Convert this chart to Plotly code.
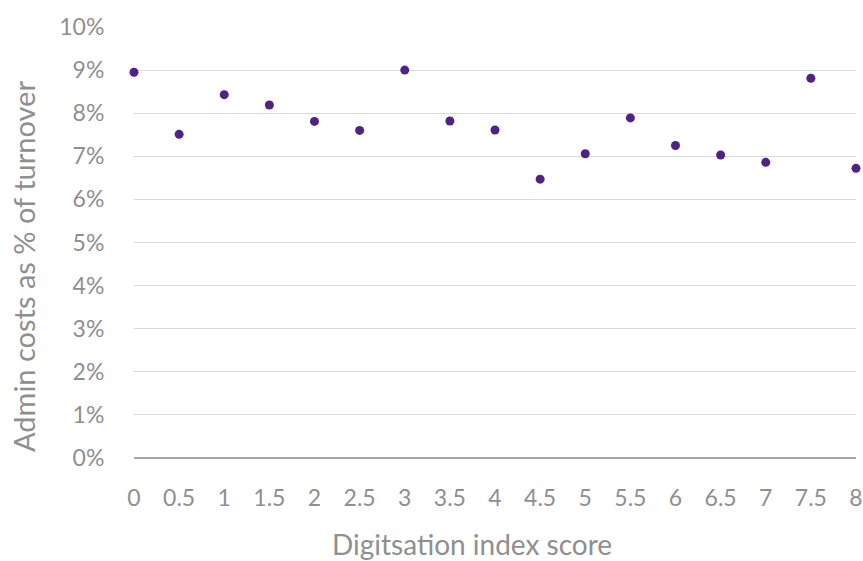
import plotly.graph_objects as go

x_scores = [0, 0.5, 1, 1.5, 2, 2.5, 3, 3.5, 4, 4.5, 5, 5.5, 6, 6.5, 7, 7.5, 8]
admin_costs = [0.0895, 0.0751, 0.0843, 0.0819, 0.0781, 0.0760, 0.0900, 0.0782, 0.0761,
               0.0647, 0.0706, 0.0789, 0.0725, 0.0703, 0.0686, 0.0881, 0.0672]
x_ticks = [0, 0.5, 1, 1.5, 2, 2.5, 3, 3.5, 4, 4.5, 5, 5.5, 6, 6.5, 7, 7.5, 8]
y_ticks = [i / 100 for i in range(0, 11)]

FONT = "Lato"
GREY = "#8f8f8f"

W, H = 863, 561
L, R, T, B = 134, 7, 27, 103
PW, PH = W - L - R, H - T - B

fig = go.Figure(go.Scatter(
    x=x_scores, y=admin_costs, mode="markers",
    marker=dict(color="#4e2383", size=9),
    cliponaxis=False,
))

fig.update_layout(
    width=W, height=H,
    margin=dict(l=L, r=R, t=T, b=B),
    paper_bgcolor="white", plot_bgcolor="white",
    font=dict(family=FONT, color=GREY, size=23),
    showlegend=False,
    xaxis=dict(
        range=[0, 8], tickvals=x_ticks, ticktext=[f"{v:g}" for v in x_ticks],
        showgrid=False, zeroline=False, showline=False,
        ticks="outside", ticklen=19, tickcolor="rgba(0,0,0,0)",
        tickfont=dict(size=23, color=GREY), automargin=False,
    ),
    yaxis=dict(
        range=[0, 0.1], tickvals=y_ticks, tickformat=".0%",
        showgrid=True, gridcolor="#d9d9d9", gridwidth=1,
        zeroline=True, zerolinecolor="#a6a6a6", zerolinewidth=1.5,
        showline=False,
        ticks="outside", ticklen=24, tickcolor="rgba(0,0,0,0)",
        tickfont=dict(size=23, color=GREY), automargin=False,
    ),
    annotations=[
        dict(text="Digitsation index score", xref="paper", yref="paper",
             x=(472 - L) / PW, y=-(544 - (H - B)) / PH, xanchor="center", yanchor="middle",
             showarrow=False, font=dict(size=28, color=GREY, family=FONT)),
        dict(text="Admin costs as % of turnover", xref="paper", yref="paper",
             x=-(L - 23) / PW, y=((H - B) - 267) / PH, xanchor="center", yanchor="middle",
             textangle=-90, showarrow=False, font=dict(size=29, color=GREY, family=FONT)),
    ],
)

fig.write_html(
    "out.html",
    config={"displayModeBar": False},
    post_script="document.body.style.margin='0';document.body.style.overflow='hidden';",
)
